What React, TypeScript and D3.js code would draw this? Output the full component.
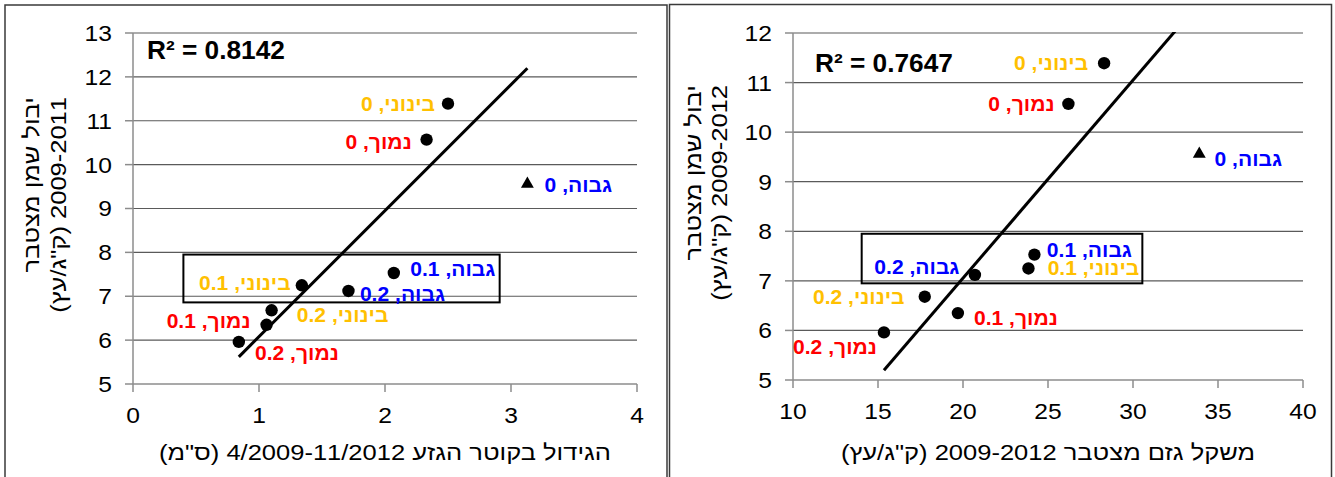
import * as d3 from 'd3';
import type { ReactNode } from 'react';

// same nine trees in both panels
const oilYield = [11.39, 10.57, 9.56, 7.53, 7.25, 7.12, 6.68, 6.35, 5.96];
const vigour = ['בינוני', 'נמוך', 'גבוה', 'גבוה', 'בינוני', 'גבוה', 'בינוני', 'נמוך', 'נמוך'];
const dose = ['0', '0', '0', '0.1', '0.1', '0.2', '0.2', '0.1', '0.2'];
const trunkGrowth = [2.5, 2.33, 3.13, 2.07, 1.34, 1.71, 1.1, 1.06, 0.84];
const prunedWeight = [28.3, 26.2, 33.9, 24.2, 23.85, 20.7, 17.75, 19.7, 15.35];
// the triangle (גבוה, 0) is not part of the trend line
const isOutlier = [false, false, true, false, false, false, false, false, false];

const leftXTicks = [0, 1, 2, 3, 4];
const leftYTicks = [5, 6, 7, 8, 9, 10, 11, 12, 13];
const rightXTicks = [10, 15, 20, 25, 30, 35, 40];
const rightYTicks = [5, 6, 7, 8, 9, 10, 11, 12];

const vigourColor: Record<string, string> = {
  'נמוך': '#ff0000',
  'בינוני': '#ffc000',
  'גבוה': '#0000ff',
};

const FONT = "'Liberation Sans', Arial, sans-serif";

type PanelCfg = {
  id: string;
  xs: number[];
  xTicks: number[];
  yTicks: number[];
  plot: { x0: number; x1: number; y0: number; y1: number };
  frame: { x: number; y: number; w: number; h: number };
  r2: string;
  r2Pos: [number, number];
  box: [number, number, number, number]; // x0, x1, y0, y1 in data units
  xTitle: string;
  yTitle: [string, string];
  yTitleX: [number, number];
  yTitleTop: number;
  // label centre offset from the point, px
  labelOffsets: [number, number][];
};

const panels: PanelCfg[] = [
  {
    id: 'a',
    xs: trunkGrowth,
    xTicks: leftXTicks,
    yTicks: leftYTicks,
    plot: { x0: 133, x1: 637, y0: 33, y1: 384 },
    frame: { x: 5, y: 5, w: 662, h: 490 },
    r2: 'R² = 0.8142',
    r2Pos: [147, 59],
    box: [0.4, 2.91, 6.86, 7.95],
    xTitle: 'הגידול בקוטר הגזע 4/2009-11/2012 (ס"מ)',
    yTitle: ['יבול שמן מצטבר', '2009-2011 (ק"ג/עץ)'],
    yTitleX: [39, 66],
    yTitleTop: 97,
    labelOffsets: [
      [-50, 0], [-48, 2], [51, 1], [59, -4], [-57, -2],
      [54, 3], [71, 5], [-58, -4], [58, 11],
    ],
  },
  {
    id: 'b',
    xs: prunedWeight,
    xTicks: rightXTicks,
    yTicks: rightYTicks,
    plot: { x0: 793, x1: 1303, y0: 33, y1: 380 },
    frame: { x: 669.5, y: 4.5, w: 662, h: 490 },
    r2: 'R² = 0.7647',
    r2Pos: [815, 72],
    box: [14.04, 30.55, 6.95, 7.95],
    xTitle: 'משקל גזם מצטבר 2009-2012 (ק"ג/עץ)',
    yTitle: ['יבול שמן מצטבר', '2009-2012 (ק"ג/עץ)'],
    yTitleX: [701, 727],
    yTitleTop: 85,
    labelOffsets: [
      [-53, 0], [-47, 0], [49, 5], [55, -5], [65, 0],
      [-58, -8], [-66, 0], [58, 5], [-49, 15],
    ],
  },
];

function linReg(xs: number[], ys: number[]) {
  const mx = d3.mean(xs)!;
  const my = d3.mean(ys)!;
  let sxy = 0;
  let sxx = 0;
  xs.forEach((x, i) => {
    sxy += (x - mx) * (ys[i] - my);
    sxx += (x - mx) * (x - mx);
  });
  const slope = sxy / sxx;
  return { slope, intercept: my - slope * mx };
}

// the source text is drawn a little wide, so stretch it along its baseline
function SText({
  x,
  y,
  sx = 1,
  rotate = 0,
  children,
  ...rest
}: {
  x: number;
  y: number;
  sx?: number;
  rotate?: number;
  children: ReactNode;
  [k: string]: any;
}) {
  return (
    <g transform={`translate(${x},${y}) rotate(${rotate}) scale(${sx},1)`}>
      <text fontFamily={FONT} fill="#000" {...rest}>
        {children}
      </text>
    </g>
  );
}

function Panel({ cfg }: { cfg: PanelCfg }) {
  const { plot } = cfg;
  const x = d3
    .scaleLinear()
    .domain(d3.extent(cfg.xTicks) as [number, number])
    .range([plot.x0, plot.x1]);
  const y = d3
    .scaleLinear()
    .domain(d3.extent(cfg.yTicks) as [number, number])
    .range([plot.y1, plot.y0]);

  const fitX = cfg.xs.filter((_, i) => !isOutlier[i]);
  const fitY = oilYield.filter((_, i) => !isOutlier[i]);
  const { slope, intercept } = linReg(fitX, fitY);
  const [lo, hi] = d3.extent(cfg.xs) as [number, number];
  const trend = d3
    .line<number>()
    .x((d) => x(d))
    .y((d) => y(slope * d + intercept))([lo, hi]);

  const tri = d3.symbol().type(d3.symbolTriangle).size(72)();
  const clipId = `clip-${cfg.id}`;

  return (
    <g>
      <defs>
        <clipPath id={clipId}>
          <rect x={plot.x0} y={plot.y0 - 1} width={plot.x1 - plot.x0} height={plot.y1 - plot.y0 + 1} />
        </clipPath>
      </defs>
      <rect
        x={cfg.frame.x}
        y={cfg.frame.y}
        width={cfg.frame.w}
        height={cfg.frame.h}
        fill="none"
        stroke="#3a3a3a"
        strokeWidth={1.5}
      />

      {/* gridlines */}
      {cfg.yTicks.slice(1).map((t) => (
        <line key={`g${t}`} x1={plot.x0} x2={plot.x1} y1={y(t)} y2={y(t)} stroke="#5a5a5a" strokeWidth={1.2} />
      ))}

      {/* axes */}
      <line x1={plot.x0} x2={plot.x0} y1={plot.y0} y2={plot.y1} stroke="#8c8c8c" strokeWidth={1.5} />
      <line x1={plot.x0} x2={plot.x1} y1={plot.y1} y2={plot.y1} stroke="#8c8c8c" strokeWidth={1.5} />
      {cfg.yTicks.map((t) => (
        <g key={`y${t}`}>
          <line x1={plot.x0 - 8} x2={plot.x0} y1={y(t)} y2={y(t)} stroke="#8c8c8c" strokeWidth={1.5} />
          <SText x={plot.x0 - 21} y={y(t)} sx={1.12} dy="0.36em" textAnchor="end" fontSize={22}>
            {t}
          </SText>
        </g>
      ))}
      {cfg.xTicks.map((t) => (
        <g key={`x${t}`}>
          <line x1={x(t)} x2={x(t)} y1={plot.y1} y2={plot.y1 + 8} stroke="#8c8c8c" strokeWidth={1.5} />
          <SText x={x(t)} y={plot.y1 + 39} sx={1.12} textAnchor="middle" fontSize={22}>
            {t}
          </SText>
        </g>
      ))}

      {/* highlighted box */}
      <rect
        x={x(cfg.box[0])}
        y={y(cfg.box[3])}
        width={x(cfg.box[1]) - x(cfg.box[0])}
        height={y(cfg.box[2]) - y(cfg.box[3])}
        fill="none"
        stroke="#000"
        strokeWidth={2}
      />

      {/* trend line */}
      <path d={trend ?? ''} fill="none" stroke="#000" strokeWidth={3} clipPath={`url(#${clipId})`} />

      {/* points */}
      {cfg.xs.map((xv, i) =>
        isOutlier[i] ? (
          <path key={`p${i}`} d={tri ?? ''} transform={`translate(${x(xv)},${y(oilYield[i])})`} fill="#000" />
        ) : (
          <circle key={`p${i}`} cx={x(xv)} cy={y(oilYield[i])} r={6.2} fill="#000" />
        )
      )}

      {/* point labels */}
      {cfg.xs.map((xv, i) => (
        <SText
          key={`l${i}`}
          x={x(xv) + cfg.labelOffsets[i][0]}
          y={y(oilYield[i]) + cfg.labelOffsets[i][1]}
          sx={1.08}
          dy="0.36em"
          textAnchor="middle"
          direction="rtl"
          fontSize={19.5}
          fontWeight="bold"
          fill={vigourColor[vigour[i]]}
        >
          {`${vigour[i]}, ${dose[i]}`}
        </SText>
      ))}

      <SText x={cfg.r2Pos[0]} y={cfg.r2Pos[1]} sx={1.05} fontSize={25} fontWeight="bold">
        {cfg.r2}
      </SText>

      {/* axis titles */}
      <SText x={(plot.x0 + plot.x1) / 2} y={460} sx={1.16} textAnchor="middle" direction="rtl" fontSize={22}>
        {cfg.xTitle}
      </SText>
      {cfg.yTitle.map((line, k) => (
        <SText
          key={`yt${k}`}
          x={cfg.yTitleX[k]}
          y={cfg.yTitleTop}
          rotate={-90}
          sx={1.16}
          textAnchor="start"
          direction="rtl"
          fontSize={22}
        >
          {line}
        </SText>
      ))}
    </g>
  );
}

export default function App() {
  return (
    <svg
      width={1335}
      height={477}
      style={{ position: 'absolute', left: 0, top: 0, background: '#fff' }}
    >
      {panels.map((p) => (
        <Panel key={p.id} cfg={p} />
      ))}
    </svg>
  );
}
